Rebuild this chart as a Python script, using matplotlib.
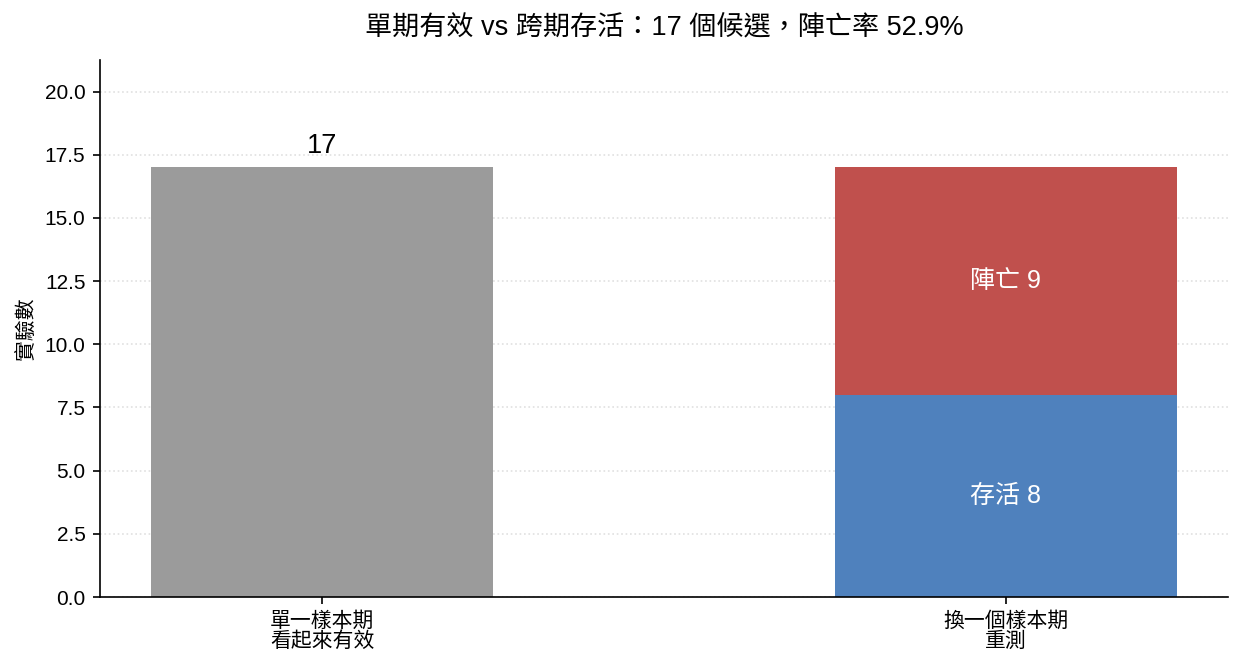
import matplotlib
matplotlib.use("Agg")
import matplotlib.pyplot as plt

plt.rcParams['font.family'] = ['Liberation Sans', 'Noto Sans CJK TC', 'DejaVu Sans']

categories = ['單一樣本期\n看起來有效', '換一個樣本期\n重測']
single_total = 17
survived = 8
died = 9

fig, ax = plt.subplots(figsize=(8.28, 4.46), dpi=150)
fig.subplots_adjust(left=0.0805, right=0.9887, bottom=0.1076, top=0.9103)

ax.bar(0, single_total, width=0.5, color='#9b9b9b')
ax.bar(1, survived, width=0.5, color='#4f81bd')
ax.bar(1, died, width=0.5, bottom=survived, color='#c0504d')

ax.text(0, single_total + 0.35, str(single_total), ha='center', va='bottom', fontsize=13)
ax.text(1, survived / 2, f'存活 {survived}', ha='center', va='center', color='white', fontsize=12)
ax.text(1, survived + died / 2, f'陣亡 {died}', ha='center', va='center', color='white', fontsize=12)

ax.set_xticks([0, 1])
ax.set_xticklabels(categories, fontsize=10, linespacing=1.0)
ax.set_ylim(0, single_total * 1.25)
ax.set_ylabel('實驗數', fontsize=10)
rate = died / single_total * 100
ax.set_title(f'單期有效 vs 跨期存活：{single_total} 個候選，陣亡率 {rate:.1f}%', fontsize=13, pad=12)

ax.yaxis.grid(True, linestyle=':', color='#e0e0e0', linewidth=0.8)
ax.set_axisbelow(True)
ax.spines['top'].set_visible(False)
ax.spines['right'].set_visible(False)

fig.savefig('out.png', dpi=150)
